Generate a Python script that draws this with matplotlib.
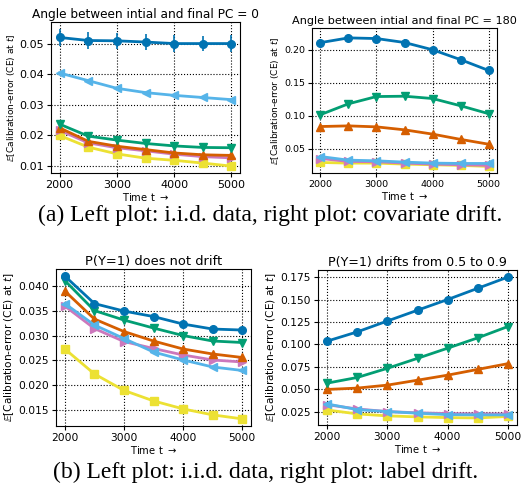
import numpy as np
import matplotlib
matplotlib.use("Agg")
import matplotlib.pyplot as plt

# --- data ---
t = [2000, 2500, 3000, 3500, 4000, 4500, 5000]

# (a) left: angle 0
a0_blue  = [0.0520, 0.0510, 0.0509, 0.0505, 0.0500, 0.0500, 0.0500]
a0_blue_err = [0.0028, 0.0027, 0.0026, 0.0025, 0.0027, 0.0025, 0.0027]
a0_lblue = [0.0404, 0.0379, 0.0354, 0.0340, 0.0331, 0.0324, 0.0317]
a0_green = [0.0237, 0.0198, 0.0185, 0.0174, 0.0166, 0.0161, 0.0160]
a0_orange = [0.0225, 0.0181, 0.0165, 0.0154, 0.0143, 0.0137, 0.0135]
a0_pink  = [0.0217, 0.0176, 0.0160, 0.0150, 0.0139, 0.0131, 0.0127]
a0_yellow = [0.0200, 0.0162, 0.0140, 0.0126, 0.0119, 0.0110, 0.0100]

# (a) right: angle 180
a180_blue  = [0.2108, 0.2180, 0.2170, 0.2110, 0.2000, 0.1850, 0.1686]
a180_blue_err = [0.005, 0.005, 0.005, 0.005, 0.004, 0.005, 0.004]
a180_lblue = [0.0380, 0.0325, 0.0315, 0.0295, 0.0280, 0.0275, 0.0275]
a180_green = [0.1015, 0.1180, 0.1290, 0.1295, 0.1260, 0.1150, 0.1030]
a180_orange = [0.0835, 0.0845, 0.0830, 0.0785, 0.0720, 0.0640, 0.0567]
a180_pink  = [0.0350, 0.0305, 0.0300, 0.0280, 0.0265, 0.0255, 0.0245]
a180_yellow = [0.0290, 0.0280, 0.0280, 0.0265, 0.0255, 0.0245, 0.0230]

# (b) left: no drift
nd_blue  = [0.0419, 0.0364, 0.0349, 0.0338, 0.0323, 0.0313, 0.0311]
nd_lblue = [0.0364, 0.0321, 0.0294, 0.0267, 0.0251, 0.0237, 0.0230]
nd_green = [0.0410, 0.0350, 0.0331, 0.0315, 0.0300, 0.0289, 0.0286]
nd_orange = [0.0389, 0.0333, 0.0308, 0.0289, 0.0273, 0.0263, 0.0256]
nd_pink  = [0.0359, 0.0314, 0.0288, 0.0274, 0.0261, 0.0251, 0.0247]
nd_yellow = [0.0273, 0.0223, 0.0190, 0.0169, 0.0153, 0.0141, 0.0133]

# (b) right: label drift
ld_blue  = [0.1037, 0.1140, 0.1261, 0.1381, 0.1500, 0.1625, 0.1750]
ld_lblue = [0.0339, 0.0276, 0.0254, 0.0236, 0.0220, 0.0217, 0.0217]
ld_green = [0.0570, 0.0633, 0.0735, 0.0846, 0.0959, 0.1074, 0.1200]
ld_orange = [0.0500, 0.0515, 0.0548, 0.0603, 0.0659, 0.0723, 0.0787]
ld_pink  = [0.0330, 0.0283, 0.0254, 0.0240, 0.0232, 0.0228, 0.0228]
ld_yellow = [0.0272, 0.0228, 0.0206, 0.0195, 0.0187, 0.0183, 0.0200]

C_BLUE, C_LBLUE, C_GREEN = "#0173B2", "#56B4E9", "#029E73"
C_ORANGE, C_PINK, C_YELLOW = "#D55E00", "#CC78BC", "#ECE133"

W, H = 527, 483
fig = plt.figure(figsize=(W / 100, H / 100), dpi=100)

def box(l, r, top, bot):
    return [l / W, 1 - bot / H, (r - l) / W, (bot - top) / H]

def panel(pos, title, series, tick_fs, title_fs, ylab_fs, blue_err=None):
    ax = fig.add_axes(pos)
    blue, lblue, green, orange, pink, yellow = series
    kw = dict(lw=2, ms=5.5)
    # lower lines first so blue ends up on top
    ax.plot(t, yellow, color=C_YELLOW, marker="s", **kw)
    ax.plot(t, pink, color=C_PINK, marker=">", **kw)
    ax.plot(t, orange, color=C_ORANGE, marker="^", **kw)
    ax.plot(t, green, color=C_GREEN, marker="v", **kw)
    ax.plot(t, lblue, color=C_LBLUE, marker="<", **kw)
    if blue_err is not None:
        ax.errorbar(t, blue, yerr=blue_err, color=C_BLUE, marker="o", elinewidth=1.2, **kw)
    else:
        ax.plot(t, blue, color=C_BLUE, marker="o", **kw)
    ax.set_xticks([2000, 3000, 4000, 5000])
    ax.grid(True, color="k", linestyle=":", linewidth=0.8)
    ax.tick_params(labelsize=tick_fs, length=3, pad=2)
    ax.set_title(title, fontsize=title_fs, pad=3)
    ax.set_xlabel("Time t $\\rightarrow$", fontsize=7.2, labelpad=1)
    ax.set_ylabel(r"$\mathbb{E}$[Calibration-error (CE) at $t$]", fontsize=ylab_fs, labelpad=2)
    return ax

panel(box(51, 240, 22, 173), "Angle between intial and final PC = 0",
      [a0_blue, a0_lblue, a0_green, a0_orange, a0_pink, a0_yellow], 8, 8.7, 6.5, a0_blue_err)
panel(box(312, 497, 28, 173), "Angle between intial and final PC = 180",
      [a180_blue, a180_lblue, a180_green, a180_orange, a180_pink, a180_yellow], 6.8, 8.1, 6.5, a180_blue_err)
panel(box(56, 251, 269, 426), "P(Y=1) does not drift",
      [nd_blue, nd_lblue, nd_green, nd_orange, nd_pink, nd_yellow], 7.7, 9.4, 7.6)
panel(box(318, 517, 270, 425), "P(Y=1) drifts from 0.5 to 0.9",
      [ld_blue, ld_lblue, ld_green, ld_orange, ld_pink, ld_yellow], 7.7, 9.1, 7.6)

cap = dict(ha="center", va="center", family="Liberation Serif", fontsize=17)
fig.text(270 / W, 1 - 215 / H, "(a) Left plot: i.i.d. data, right plot: covariate drift.", **cap)
fig.text(266 / W, 1 - 472 / H, "(b) Left plot: i.i.d. data, right plot: label drift.", **cap)

fig.savefig("out.png", dpi=100)
